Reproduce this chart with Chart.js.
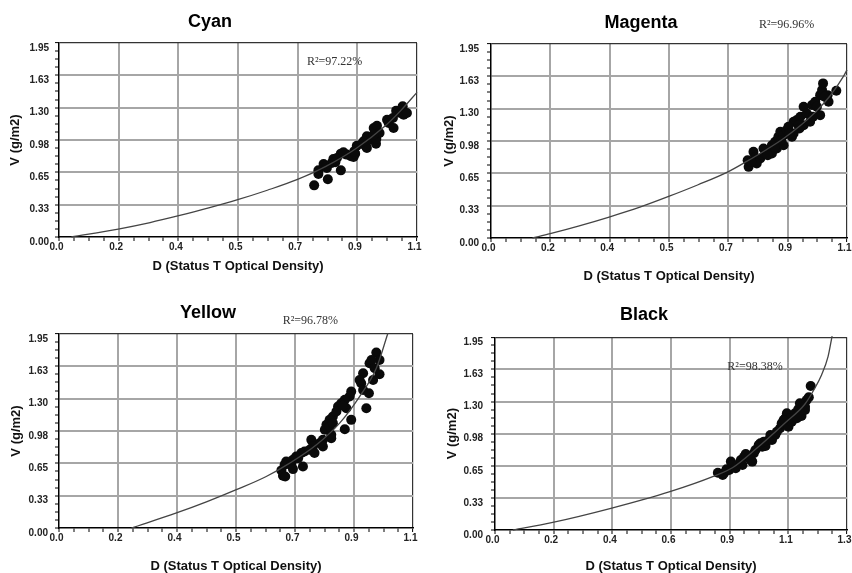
<!DOCTYPE html>
<html lang="en">
<head>
<meta charset="UTF-8">
<title>V vs D - Cyan, Magenta, Yellow, Black</title>
<script src="https://cdn.jsdelivr.net/npm/chart.js"></script>
<style>
    html, body { margin: 0; padding: 0; background: #fff; overflow: hidden; }
    body { width: 852px; height: 573px; position: relative; }
    canvas { position: absolute; }
</style>
</head>
<body>
<canvas id="cyanChart"></canvas>
<canvas id="magentaChart"></canvas>
<canvas id="yellowChart"></canvas>
<canvas id="blackChart"></canvas>

<script>
// tick labels exactly as printed on the original plots
const yTickLabels = ['0.00', '0.33', '0.65', '0.98', '1.30', '1.63', '1.95'];
const xTickLabels = ['0.0', '0.2', '0.4', '0.5', '0.7', '0.9', '1.1'];
const xTickLabelsBlack = ['0.0', '0.2', '0.4', '0.6', '0.9', '1.1', '1.3'];

// measured samples [D, V]
const cyanPoints = [
    [0.784, 0.519], [0.797, 0.633], [0.797, 0.670], [0.826, 0.580], [0.813, 0.734], [0.821, 0.710],
    [0.843, 0.784], [0.838, 0.744], [0.866, 0.838], [0.866, 0.670], [0.854, 0.794], [0.884, 0.828],
    [0.897, 0.811], [0.905, 0.804], [0.910, 0.838], [0.915, 0.918], [0.931, 0.938], [0.943, 0.911],
    [0.946, 0.895], [0.946, 1.012], [0.954, 0.978], [0.974, 0.938], [0.975, 0.985], [0.967, 1.096],
    [0.977, 1.119], [0.985, 1.045], [1.008, 1.179], [1.013, 1.146], [1.028, 1.096], [1.026, 1.196],
    [1.036, 1.270], [1.049, 1.246], [1.056, 1.313], [1.059, 1.229], [1.069, 1.246], [0.967, 1.029],
    [0.936, 0.962], [0.874, 0.851], [0.823, 0.694], [0.849, 0.751], [0.907, 0.861]
];
const magentaPoints = [
    [0.796, 0.715], [0.793, 0.782], [0.811, 0.866], [0.816, 0.809], [0.832, 0.799], [0.847, 0.849],
    [0.863, 0.866], [0.868, 0.933], [0.878, 0.967], [0.888, 1.017], [0.894, 1.067], [0.904, 1.034],
    [0.914, 1.084], [0.930, 1.017], [0.935, 1.168], [0.945, 1.185], [0.956, 1.218], [0.966, 1.319],
    [0.966, 1.134], [0.986, 1.168], [0.992, 1.336], [1.002, 1.369], [1.017, 1.235], [1.017, 1.436],
    [1.023, 1.487], [1.026, 1.554], [1.040, 1.436], [1.067, 1.480], [0.868, 0.849], [0.883, 0.899],
    [0.904, 0.933], [0.919, 1.118], [0.950, 1.134], [0.976, 1.252], [1.007, 1.319], [1.043, 1.369],
    [0.821, 0.748], [0.842, 0.899], [0.935, 1.050], [0.804, 0.765], [0.855, 0.832], [0.876, 0.916],
    [0.897, 0.983], [0.922, 1.050], [0.953, 1.101], [0.995, 1.218], [1.031, 1.420]
];
const yellowPoints = [
    [0.986, 1.763], [0.996, 1.689], [0.965, 1.656], [0.971, 1.689], [0.996, 1.545], [0.945, 1.555],
    [0.939, 1.455], [0.934, 1.488], [0.963, 1.355], [0.945, 1.388], [0.908, 1.371], [0.903, 1.321],
    [0.888, 1.288], [0.877, 1.254], [0.867, 1.221], [0.893, 1.204], [0.955, 1.204], [0.908, 1.087],
    [0.851, 1.121], [0.841, 1.087], [0.831, 1.037], [0.826, 0.987], [0.846, 0.937], [0.888, 0.993],
    [0.841, 1.020], [0.846, 0.903], [0.820, 0.886], [0.810, 0.853], [0.784, 0.886], [0.789, 0.819],
    [0.820, 0.819], [0.763, 0.769], [0.753, 0.753], [0.737, 0.719], [0.727, 0.686], [0.706, 0.669],
    [0.701, 0.636], [0.758, 0.619], [0.691, 0.579], [0.696, 0.525], [0.703, 0.518], [0.722, 0.636],
    [0.727, 0.592], [0.743, 0.702], [0.779, 0.786], [0.794, 0.753], [0.815, 0.853], [0.851, 1.054],
    [0.862, 1.171], [0.882, 1.228], [0.976, 1.488], [0.981, 1.605]
];
const blackPoints = [
    [0.823, 0.580], [0.841, 0.557], [0.847, 0.580], [0.865, 0.607], [0.871, 0.692], [0.877, 0.658],
    [0.895, 0.658], [0.908, 0.708], [0.920, 0.742], [0.926, 0.769], [0.938, 0.742], [0.950, 0.692],
    [0.956, 0.776], [0.962, 0.810], [0.974, 0.860], [0.987, 0.843], [0.999, 0.850], [1.017, 0.962],
    [1.023, 0.911], [1.035, 0.962], [1.053, 1.029], [1.059, 1.080], [1.072, 1.130], [1.078, 1.181],
    [1.084, 1.046], [1.096, 1.096], [1.108, 1.181], [1.120, 1.221], [1.126, 1.282], [1.132, 1.154],
    [1.145, 1.215], [1.151, 1.316], [1.159, 1.343], [1.166, 1.457], [1.011, 0.911], [0.914, 0.658],
    [0.944, 0.708], [1.041, 0.995], [1.090, 1.130], [1.066, 1.113], [1.115, 1.130], [1.145, 1.248],
    [0.889, 0.624], [0.855, 0.614], [0.980, 0.877], [0.993, 0.894]
];

// fitted curves
const cyanCurve = [
    [0.038, 0], [0.182, 0.080], [0.280, 0.145], [0.368, 0.214], [0.460, 0.292], [0.549, 0.375],
    [0.640, 0.470], [0.731, 0.576], [0.820, 0.710], [0.915, 0.895], [1.000, 1.110], [1.050, 1.270],
    [1.100, 1.454]
];
const magentaCurve = [
    [0.128, 0], [0.183, 0.044], [0.270, 0.120], [0.365, 0.211], [0.460, 0.310], [0.551, 0.420],
    [0.640, 0.535], [0.732, 0.665], [0.790, 0.770], [0.852, 0.890], [0.904, 1.000], [0.956, 1.130],
    [1.007, 1.280], [1.048, 1.430], [1.090, 1.630], [1.100, 1.690]
];
const yellowCurve = [
    [0.225, 0], [0.365, 0.151], [0.460, 0.265], [0.551, 0.385], [0.644, 0.518], [0.717, 0.652],
    [0.800, 0.836], [0.872, 1.054], [0.934, 1.321], [0.986, 1.605], [1.022, 1.957]
];
const blackCurve = [
    [0.066, 0], [0.209, 0.074], [0.428, 0.219], [0.646, 0.388], [0.804, 0.540], [0.880, 0.635],
    [0.962, 0.816], [1.072, 1.086], [1.145, 1.275], [1.181, 1.434], [1.206, 1.569], [1.230, 1.754],
    [1.245, 1.963]
];

const r2Labels = ['R\u00B2=97.22%', 'R\u00B2=96.96%', 'R\u00B2=96.78%', 'R\u00B2=98.38%'];

const SANS = '"Liberation Sans", Arial, Helvetica, sans-serif';
const STEPS = 24; // 6 labelled divisions, 4 minor ticks each

// R² note, placed in data units
const r2Plugin = {
    id: 'r2',
    afterDraw(chart, args, opts) {
        const { ctx, scales } = chart;
        ctx.save();
        ctx.font = '12px "Liberation Serif", "Times New Roman", serif';
        ctx.fillStyle = '#333';
        ctx.textBaseline = 'middle';
        ctx.textAlign = 'left';
        ctx.fillText(opts.text, scales.x.getPixelForValue(opts.at[0]), scales.y.getPixelForValue(opts.at[1]));
        ctx.restore();
    }
};

const toXY = arr => arr.map(p => ({ x: p[0], y: p[1] }));

function evenTicks(max) {
    return scale => {
        scale.ticks = [];
        for (let i = 0; i <= STEPS; i++) scale.ticks.push({ value: max * i / STEPS });
    };
}

function gridColor(ctx) {
    if (ctx.index === 0) return 'rgba(0,0,0,0)';
    if (ctx.index === STEPS) return '#333';
    return ctx.index % 4 === 0 ? '#a6a6a6' : 'rgba(0,0,0,0)';
}
function gridWidth(ctx) {
    if (ctx.index === STEPS) return 1.2;
    return ctx.index % 4 === 0 ? 2 : 0;
}

function makeChart(p) {
    const canvas = document.getElementById(p.id);
    canvas.width = p.box[2];
    canvas.height = p.box[3];
    canvas.style.left = p.box[0] + 'px';
    canvas.style.top = p.box[1] + 'px';

    new Chart(canvas, {
        type: 'scatter',
        data: {
            datasets: [
                {
                    label: 'fit',
                    data: toXY(p.curve),
                    showLine: true,
                    borderColor: '#444',
                    borderWidth: 1.3,
                    pointRadius: 0,
                    cubicInterpolationMode: 'monotone',
                    clip: false
                },
                {
                    label: 'samples',
                    data: toXY(p.points),
                    pointRadius: 5,
                    pointBackgroundColor: '#0a0a0a',
                    pointBorderWidth: 0
                }
            ]
        },
        options: {
            responsive: false,
            animation: false,
            devicePixelRatio: 1,
            events: [],
            layout: { padding: { left: 0, right: p.padR, top: 0, bottom: 0 } },
            plugins: {
                legend: { display: false },
                tooltip: { enabled: false },
                title: {
                    display: true,
                    text: p.title,
                    color: '#000',
                    font: { family: SANS, size: 18, weight: 'bold' },
                    padding: { top: p.titlePad[0], bottom: p.titlePad[1] }
                },
                r2: { text: p.r2, at: p.r2At }
            },
            scales: {
                x: {
                    type: 'linear',
                    min: 0,
                    max: p.xMax,
                    afterBuildTicks: evenTicks(p.xMax),
                    afterFit: s => { s.height = p.xAxisH; s.paddingLeft = 0; s.paddingRight = 0; },
                    ticks: {
                        autoSkip: false,
                        maxRotation: 0,
                        padding: 0,
                        labelOffset: -2.5,
                        color: '#222',
                        font: { family: SANS, size: 10, weight: 'bold' },
                        callback: (v, i) => (i % 4 === 0 ? p.xLabels[i / 4] : '')
                    },
                    grid: { color: gridColor, lineWidth: gridWidth, tickColor: '#000', tickWidth: 1, tickLength: 4 },
                    border: { color: '#000', width: 1.5 },
                    title: {
                        display: true,
                        text: 'D (Status T Optical Density)',
                        color: '#111',
                        font: { family: SANS, size: 13, weight: 'bold' },
                        padding: { top: 0, bottom: p.xTitlePad }
                    }
                },
                y: {
                    type: 'linear',
                    min: 0,
                    max: 1.95,
                    afterBuildTicks: evenTicks(1.95),
                    afterFit: s => { s.width = p.yAxisW; s.paddingTop = 0; s.paddingBottom = 0; },
                    ticks: {
                        autoSkip: false,
                        padding: p.yLabelPad,
                        labelOffset: 5,
                        color: '#222',
                        font: { family: SANS, size: 10, weight: 'bold' },
                        callback: (v, i) => (i % 4 === 0 ? yTickLabels[i / 4] : '')
                    },
                    grid: { color: gridColor, lineWidth: gridWidth, tickColor: '#000', tickWidth: 1, tickLength: 4 },
                    border: { color: '#000', width: 1.5 },
                    title: {
                        display: true,
                        text: 'V (g/m2)',
                        color: '#111',
                        font: { family: SANS, size: 13, weight: 'bold' },
                        padding: { top: p.yTitlePad, bottom: 0 }
                    }
                }
            }
        },
        plugins: [r2Plugin]
    });
}

// panel placement on the page
const panels = [
    { id: 'cyanChart', title: 'Cyan', points: cyanPoints, curve: cyanCurve, xLabels: xTickLabels, xMax: 1.1,
      r2: r2Labels[0], r2At: [0.762, 1.762],
      box: [3, 0, 420, 286], padR: 6, yAxisW: 56, xAxisH: 49, titlePad: [11.2, 10.2],
      xTitlePad: 11.5, yTitlePad: 4.2, yLabelPad: 6 },
    { id: 'magentaChart', title: 'Magenta', points: magentaPoints, curve: magentaCurve, xLabels: xTickLabels, xMax: 1.1,
      r2: r2Labels[1], r2At: [0.828, 2.141],
      box: [435, 0, 417, 286], padR: 5, yAxisW: 56, xAxisH: 48, titlePad: [12.2, 10.2],
      xTitlePad: 2.2, yTitlePad: 6.5, yLabelPad: 8 },
    { id: 'yellowChart', title: 'Yellow', points: yellowPoints, curve: yellowCurve, xLabels: xTickLabels, xMax: 1.1,
      r2: r2Labels[2], r2At: [0.695, 2.083],
      box: [3, 286, 416, 292], padR: 6, yAxisW: 56, xAxisH: 50, titlePad: [16.2, 10.2],
      xTitlePad: 3.5, yTitlePad: 5.9, yLabelPad: 7 },
    { id: 'blackChart', title: 'Black', points: blackPoints, curve: blackCurve, xLabels: xTickLabelsBlack, xMax: 1.3,
      r2: r2Labels[3], r2At: [0.858, 1.649],
      box: [437, 286, 415, 292], padR: 1, yAxisW: 58, xAxisH: 48, titlePad: [18.2, 11.5],
      xTitlePad: 4.2, yTitlePad: 7.2, yLabelPad: 8 }
];

panels.forEach(makeChart);
</script>
</body>
</html>
